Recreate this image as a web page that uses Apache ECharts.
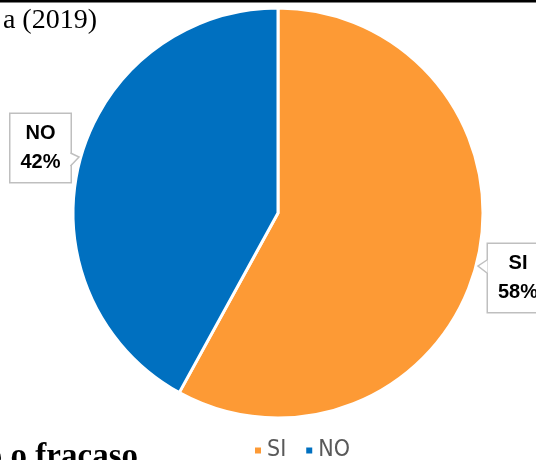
<!DOCTYPE html>
<html><head><meta charset="utf-8">
<script src="https://cdn.jsdelivr.net/npm/echarts@6/dist/echarts.min.js"></script>
<style>html,body{margin:0;padding:0;background:#fff}#c{width:536px;height:460px}</style>
</head><body><div id="c"></div>
<script>
const categories = ['SI', 'NO'];
const values = [58, 42];
const colors = ['#FD9A35', '#0070C0'];
const topText = 'a (2019)';
const bottomText = 'éxito o fracaso';

const chart = echarts.init(document.getElementById('c'), null, {renderer: 'canvas'});
const labelSpots = {
  SI: {x: 518, y: 278},
  NO: {x: 40.5, y: 148}
};
const gray = '#BFBFBF';
chart.setOption({
  animation: false,
  color: colors,
  legend: {
    data: categories,
    left: 248, top: 434,
    icon: 'rect', itemWidth: 8, itemHeight: 8, itemGap: 18,
    textStyle: {color: '#595959', fontFamily: '"Liberation Sans Narrow", "DejaVu Sans Condensed", "Roboto"', fontSize: 23}
  },
  graphic: [
    {type: 'rect', shape: {x: 0, y: 0, width: 536, height: 2.5}, style: {fill: '#000'}},
    {type: 'text', x: 97, y: 21, style: {text: topText, align: 'right', verticalAlign: 'middle', fontFamily: '"Liberation Serif", "DejaVu Serif", serif', fontSize: 28, fill: '#000'}},
    {type: 'text', x: 138, y: 457, style: {text: bottomText, align: 'right', verticalAlign: 'middle', fontFamily: '"Liberation Serif", "DejaVu Serif", serif', fontWeight: 'bold', fontSize: 33, fill: '#000'}},
    {type: 'polygon', z: 100, shape: {points: [[69.5, 153], [79, 157], [69.5, 166]]}, style: {fill: '#fff', stroke: null}},
    {type: 'polyline', z: 101, shape: {points: [[70.5, 153], [79, 157], [70.5, 166]]}, style: {stroke: gray, lineWidth: 1.5, fill: null}},
    {type: 'polygon', z: 100, shape: {points: [[487.5, 260], [478, 266], [487.5, 273]]}, style: {fill: '#fff', stroke: null}},
    {type: 'polyline', z: 101, shape: {points: [[487, 260], [478, 266], [487, 273]]}, style: {stroke: gray, lineWidth: 1.5, fill: null}}
  ],
  series: [{
    type: 'pie',
    center: [278, 213],
    radius: 205,
    startAngle: 90,
    clockwise: true,
    itemStyle: {borderColor: '#fff', borderWidth: 3},
    data: categories.map((c, i) => ({name: c, value: values[i]})),
    label: {
      show: true,
      formatter: '{b}\n{d}%',
      fontFamily: '"Liberation Sans", Arial, sans-serif', fontWeight: 'bold', fontSize: 20,
      lineHeight: 29, color: '#000', align: 'center',
      overflow: 'none', width: 40,
      backgroundColor: '#fff', borderColor: gray, borderWidth: 1.5,
      padding: [5, 10]
    },
    labelLine: {show: false},
    labelLayout: function (p) {
      const s = labelSpots[categories[p.dataIndex]];
      return {x: s.x, y: s.y, align: 'center', verticalAlign: 'middle'};
    }
  }]
});
</script></body></html>
